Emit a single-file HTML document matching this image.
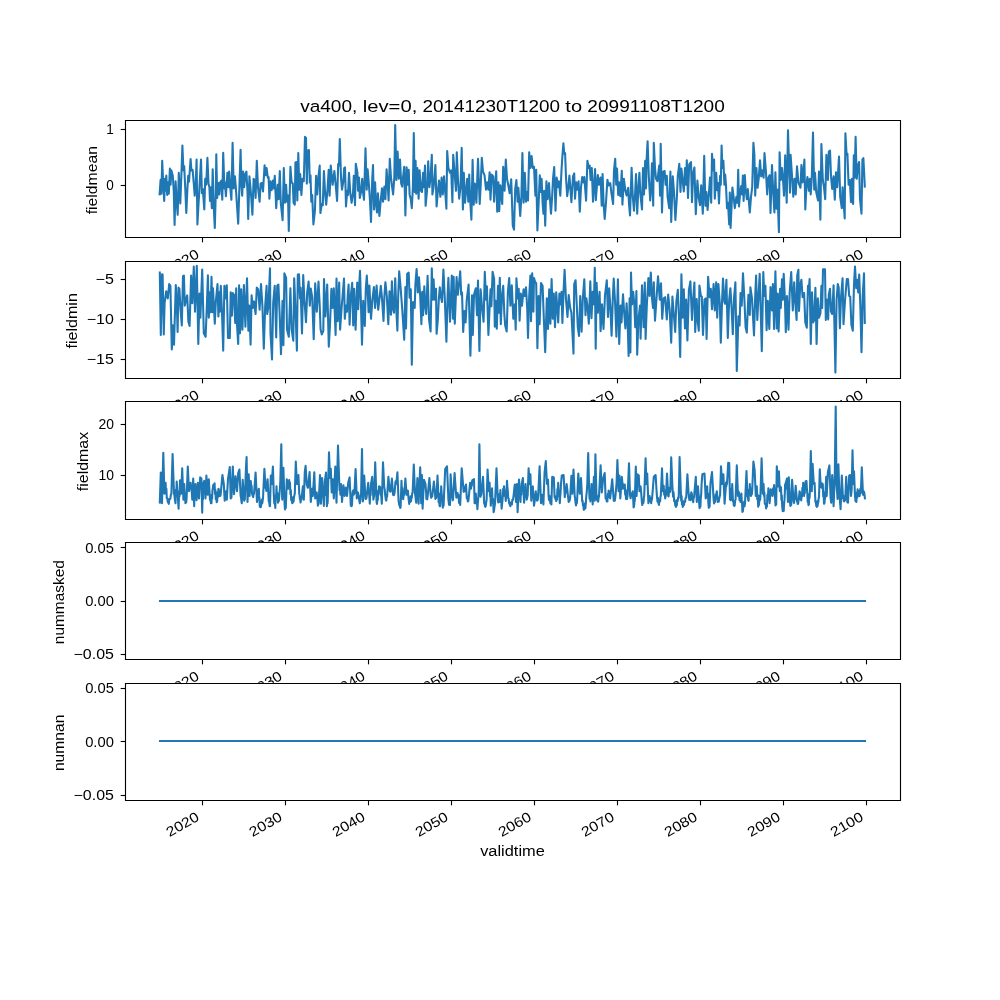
<!DOCTYPE html>
<html><head><meta charset="utf-8"><title>va400</title>
<style>html,body{margin:0;padding:0;background:#fff}svg{display:block;will-change:transform}text{font-family:"Liberation Sans",sans-serif;fill:#000}</style></head>
<body>
<svg width="1000" height="1000" viewBox="0 0 1000 1000">
<rect x="0" y="0" width="1000" height="1000" fill="#fff"/>
<text x="300.16" y="111.7" font-size="16.67" textLength="57.20" lengthAdjust="spacingAndGlyphs">va400,</text>
<text x="362.66" y="111.7" font-size="16.67" textLength="54.63" lengthAdjust="spacingAndGlyphs">lev=0,</text>
<text x="422.59" y="111.7" font-size="16.67" textLength="137.46" lengthAdjust="spacingAndGlyphs">20141230T1200</text>
<text x="565.34" y="111.7" font-size="16.67" textLength="16.74" lengthAdjust="spacingAndGlyphs">to</text>
<text x="587.38" y="111.7" font-size="16.67" textLength="137.46" lengthAdjust="spacingAndGlyphs">20991108T1200</text>
<g>
<rect x="125.0" y="120.00" width="775.0" height="117.24" fill="#fff"/>
<polyline points="159.6,194.4 160.6,179.7 161.4,193.8 162.2,160.8 163.4,187.2 164.2,201.0 165.0,178.8 165.6,190.8 166.3,175.5 167.2,195.0 168.0,182.4 168.8,193.8 169.9,168.6 170.6,184.8 171.4,170.4 172.8,175.8 173.8,192.0 174.6,225.0 175.6,181.2 176.7,202.8 177.7,214.8 178.8,172.8 180.3,203.4 181.5,171.6 182.4,145.5 183.4,170.4 184.2,166.2 185.2,187.2 186.3,213.0 187.5,187.2 188.2,175.8 189.0,181.8 190.6,159.0 191.4,170.4 192.6,169.8 193.8,183.6 194.7,195.6 195.6,187.2 196.6,159.6 197.4,224.4 199.2,192.0 201.0,159.6 201.9,193.2 202.8,189.0 204.3,209.4 205.2,178.8 206.2,184.8 207.4,157.8 208.5,183.6 209.4,187.2 210.0,201.0 211.0,187.2 211.8,208.2 212.7,169.2 213.6,204.0 214.8,228.0 215.8,192.0 216.3,154.2 217.2,198.0 218.4,183.0 219.4,194.4 220.2,182.4 221.4,180.6 222.3,199.8 223.2,152.7 224.4,188.4 225.0,182.4 225.9,196.2 227.4,172.8 228.3,187.2 229.2,171.6 230.2,187.2 231.4,199.8 232.6,142.8 233.7,188.4 234.9,176.4 235.8,187.2 238.2,223.8 239.4,187.2 240.6,149.8 241.5,186.0 242.2,195.6 243.0,171.6 244.2,187.2 245.4,173.4 246.4,171.6 247.5,192.0 248.2,219.0 249.4,177.6 249.4,176.4 250.4,187.2 251.2,196.8 252.4,214.8 253.6,178.8 254.6,180.0 255.6,198.0 256.8,160.8 258.0,187.2 259.6,201.6 260.6,183.6 261.8,183.0 263.0,191.4 264.6,165.4 265.6,175.2 266.6,168.0 267.8,177.6 268.6,177.0 269.4,198.6 270.5,181.2 271.7,190.2 272.9,180.6 273.8,188.4 274.8,175.8 276.2,208.2 277.7,184.8 278.6,199.2 279.8,171.0 280.8,202.8 282.6,220.2 283.8,168.0 285.0,202.8 286.1,184.8 287.0,201.6 288.0,195.6 288.8,231.0 290.4,166.8 291.6,182.4 292.8,183.6 293.6,202.8 294.8,204.6 295.4,162.6 296.4,162.0 297.3,200.4 298.3,153.0 299.3,189.6 300.2,174.0 301.4,195.0 302.4,178.8 303.8,181.2 305.0,136.8 306.0,138.0 306.8,183.6 307.7,150.6 308.9,150.0 309.8,182.4 310.5,175.2 311.3,201.6 312.2,195.0 313.4,224.4 314.9,211.2 316.1,175.8 317.3,194.4 318.5,176.4 319.7,165.6 320.4,213.0 321.8,204.0 322.8,205.2 323.9,171.0 325.2,194.4 326.2,204.6 327.6,188.4 328.7,169.8 329.6,195.6 330.8,165.6 332.6,184.8 334.4,171.0 336.0,188.4 337.1,201.0 338.2,163.8 339.0,165.6 339.8,139.0 341.0,177.6 342.0,189.6 343.2,182.4 344.2,168.0 345.0,167.4 346.0,206.4 347.2,190.8 348.0,195.0 349.0,172.8 350.2,192.0 351.6,202.8 353.0,193.2 353.8,175.8 355.0,205.2 355.8,163.8 357.4,172.8 358.0,190.8 359.0,177.6 359.8,198.0 361.0,192.0 362.2,178.8 363.0,192.0 364.0,199.8 365.5,148.2 366.7,189.6 367.6,169.2 369.1,187.2 370.0,201.0 371.0,222.0 372.2,180.0 373.0,165.0 374.0,209.4 375.1,182.4 376.0,204.0 377.0,212.4 377.9,193.2 379.4,216.0 380.6,201.6 382.0,188.4 383.0,201.6 384.4,186.6 385.4,199.2 386.6,169.2 387.8,186.0 388.6,200.4 389.8,158.7 391.0,177.6 391.9,185.4 393.1,194.4 394.3,177.6 395.2,125.0 396.4,180.0 397.6,151.5 398.8,178.8 400.0,159.6 401.2,183.6 402.2,186.6 403.0,177.6 404.2,166.8 405.4,215.4 406.6,167.4 407.6,184.8 408.7,169.8 409.6,194.4 410.8,199.2 411.8,208.2 412.9,187.2 413.8,133.0 414.7,192.0 415.6,160.8 416.2,193.8 417.4,168.0 418.6,198.6 419.6,170.4 421.0,190.8 422.0,192.0 423.1,172.8 424.0,187.2 425.0,165.6 425.6,205.8 427.0,190.8 428.2,161.4 429.4,187.2 430.6,177.6 431.8,154.8 432.4,194.4 433.6,187.2 435.4,165.0 436.6,206.4 437.8,192.0 439.0,180.6 440.4,196.8 441.6,177.6 442.8,194.4 444.0,176.4 445.2,192.0 446.4,208.8 447.2,151.0 448.4,168.0 450.0,172.8 451.2,170.4 452.4,202.2 453.2,154.8 454.4,170.4 456.0,190.8 456.8,152.2 458.0,180.0 459.2,198.6 460.5,187.2 461.7,147.9 462.9,209.4 463.8,172.8 465.0,202.8 466.0,192.0 467.2,178.8 468.3,201.6 469.2,174.6 470.4,204.0 471.4,219.6 472.6,159.9 473.7,204.6 474.9,183.6 476.4,202.8 478.0,158.7 479.7,204.0 480.6,187.2 481.8,157.8 483.0,171.6 484.5,175.2 486.0,189.6 487.2,182.4 488.4,189.6 489.6,172.2 490.5,199.8 491.7,174.6 493.2,176.4 494.1,201.6 495.0,187.2 496.2,171.4 497.2,211.8 498.4,182.4 499.2,211.2 500.4,185.4 502.2,204.0 503.2,166.8 504.6,190.8 505.8,159.6 507.0,178.8 508.2,184.8 509.7,193.2 511.2,179.4 512.8,225.6 514.0,229.8 515.2,189.0 516.4,180.0 517.6,201.6 518.4,187.8 520.2,216.0 521.4,196.8 522.4,153.0 523.6,202.8 524.8,172.8 526.0,201.6 526.8,192.0 528.0,200.4 529.2,152.4 530.4,168.0 531.6,156.0 532.8,168.0 534.0,166.8 535.4,195.6 536.2,169.8 537.4,230.4 538.6,204.0 539.8,175.2 540.8,192.0 541.6,178.8 542.6,202.8 543.4,213.6 544.2,190.8 545.2,225.6 546.4,181.2 547.6,199.2 549.0,183.0 549.8,196.8 551.0,213.6 552.2,195.6 553.0,178.8 554.2,167.1 555.5,210.6 556.7,177.6 557.9,187.2 558.8,181.2 560.3,195.6 561.5,170.4 562.4,156.0 563.4,143.4 564.2,153.6 565.1,153.0 566.0,177.6 567.2,196.2 568.4,187.2 569.4,175.5 571.4,202.2 573.0,176.4 574.2,173.4 575.0,198.6 576.2,182.4 577.4,189.6 578.6,181.2 579.8,211.8 581.0,187.2 582.2,177.0 583.4,182.4 584.3,177.0 586.1,200.7 587.4,160.8 588.8,168.0 589.7,165.6 590.6,180.0 591.8,168.0 593.0,201.6 594.2,182.4 595.1,169.0 595.8,200.2 597.0,184.8 597.8,175.0 599.0,184.8 600.6,177.6 601.7,205.8 602.6,174.0 603.6,204.0 604.7,219.0 605.9,204.0 607.4,179.8 608.6,185.4 610.2,183.0 611.6,194.4 613.1,204.0 614.0,170.4 615.2,158.7 616.2,184.8 617.0,168.6 618.2,195.0 619.1,182.4 620.3,196.2 621.8,170.7 622.4,204.6 623.9,178.8 625.4,190.8 626.6,195.6 628.2,187.8 629.0,204.0 630.0,215.4 631.6,167.8 632.8,196.8 634.0,210.6 635.2,192.0 636.0,174.0 637.2,213.6 638.4,187.2 639.4,172.8 640.4,194.4 642.0,209.4 643.0,168.0 644.0,194.4 645.2,160.8 646.0,188.4 646.6,159.6 647.6,141.4 648.8,176.4 650.2,200.4 651.2,187.2 652.0,163.2 653.2,205.8 653.8,142.8 655.0,168.0 656.0,178.8 657.4,181.2 659.2,165.6 660.1,195.6 660.7,143.8 662.0,212.4 663.2,171.6 664.6,171.0 665.6,184.8 666.8,175.8 667.6,196.8 669.2,208.2 670.4,171.6 671.2,222.0 672.8,176.4 674.0,192.0 675.4,219.9 676.9,196.8 677.8,175.8 679.3,163.8 680.5,192.0 681.4,168.6 682.6,180.0 683.8,191.4 685.0,168.0 686.0,184.8 686.8,160.2 688.0,198.0 689.2,164.4 691.0,162.0 692.0,202.2 693.2,172.8 694.4,167.4 695.8,214.2 697.4,180.6 698.6,196.8 700.0,205.2 701.2,185.4 702.8,213.6 704.2,155.8 705.4,205.8 706.4,192.0 707.6,210.0 709.0,192.0 710.0,177.6 711.2,202.8 712.0,153.9 713.2,170.4 714.1,159.6 714.8,198.6 716.2,172.8 717.2,190.2 718.0,183.0 719.0,203.4 720.1,175.8 720.8,184.8 721.6,145.5 722.4,168.0 723.4,160.8 724.4,184.8 725.2,174.6 726.0,185.4 727.0,208.2 728.0,202.8 729.2,224.4 729.8,192.6 730.6,228.0 732.4,187.5 733.6,196.8 734.8,208.2 736.4,196.8 737.4,202.8 738.2,169.8 739.0,206.4 740.2,192.0 741.2,186.0 742.0,194.4 742.9,175.5 743.6,201.0 744.8,175.0 745.6,188.4 746.8,199.2 747.8,189.0 749.8,212.4 751.0,196.8 752.2,187.2 753.4,142.8 754.4,154.8 755.2,195.6 756.4,168.0 757.6,187.8 758.8,177.6 760.0,160.2 761.2,176.4 762.4,170.4 763.6,177.6 764.5,153.0 766.0,172.8 767.2,194.4 768.4,177.6 769.6,175.2 770.5,213.0 772.0,165.0 773.2,192.0 774.4,212.4 775.4,172.2 776.5,208.8 777.4,189.6 778.9,232.2 779.6,152.2 780.8,180.0 782.0,168.0 783.2,182.4 784.0,195.6 785.2,155.4 786.7,202.8 788.0,130.2 789.2,170.4 790.0,192.6 790.6,154.8 791.8,172.8 793.3,196.8 794.5,178.8 795.7,194.4 797.0,166.2 798.4,182.4 800.5,187.8 801.4,165.0 802.6,182.4 804.4,159.6 805.3,209.4 806.5,184.8 807.4,177.0 808.9,190.8 809.8,178.8 810.7,194.4 811.8,177.6 813.0,132.6 814.2,189.6 815.0,172.8 816.2,192.0 818.0,200.4 819.0,171.6 820.4,219.6 821.4,144.0 822.8,180.0 824.0,187.2 825.2,199.2 826.4,154.8 827.9,180.0 828.8,151.8 830.0,150.6 831.0,176.4 832.2,189.0 833.6,176.4 834.8,199.8 836.0,172.2 837.2,187.2 839.0,156.6 840.2,196.8 841.8,208.2 842.6,187.2 844.7,218.4 845.4,133.2 846.6,154.8 847.4,153.6 848.6,184.8 849.8,180.0 851.0,202.2 851.9,178.8 853.1,204.0 853.8,155.4 854.6,177.6 855.6,136.8 856.7,178.8 857.9,165.6 859.1,162.0 860.0,199.2 861.5,213.6 862.4,159.6 863.4,158.2 864.8,186.6" fill="none" stroke="#1f77b4" stroke-width="2.08" stroke-linejoin="round" stroke-linecap="square"/>
<path d="M125.5,119.95V238.05M900.5,119.95V238.05M124.95,120.5H901.05M124.95,237.5H901.05" fill="none" stroke="#000" stroke-width="1.11"/>
<line x1="202.5" y1="237.5" x2="202.5" y2="242.36" stroke="#000" stroke-width="1.11"/>
<text transform="translate(200.18,256.84) rotate(-30)" font-size="13.89" text-anchor="end" textLength="35.35" lengthAdjust="spacingAndGlyphs">2020</text>
<line x1="285.5" y1="237.5" x2="285.5" y2="242.36" stroke="#000" stroke-width="1.11"/>
<text transform="translate(283.22,256.84) rotate(-30)" font-size="13.89" text-anchor="end" textLength="35.35" lengthAdjust="spacingAndGlyphs">2030</text>
<line x1="368.5" y1="237.5" x2="368.5" y2="242.36" stroke="#000" stroke-width="1.11"/>
<text transform="translate(366.24,256.84) rotate(-30)" font-size="13.89" text-anchor="end" textLength="35.35" lengthAdjust="spacingAndGlyphs">2040</text>
<line x1="451.5" y1="237.5" x2="451.5" y2="242.36" stroke="#000" stroke-width="1.11"/>
<text transform="translate(449.27,256.84) rotate(-30)" font-size="13.89" text-anchor="end" textLength="35.35" lengthAdjust="spacingAndGlyphs">2050</text>
<line x1="534.5" y1="237.5" x2="534.5" y2="242.36" stroke="#000" stroke-width="1.11"/>
<text transform="translate(532.29,256.84) rotate(-30)" font-size="13.89" text-anchor="end" textLength="35.35" lengthAdjust="spacingAndGlyphs">2060</text>
<line x1="617.5" y1="237.5" x2="617.5" y2="242.36" stroke="#000" stroke-width="1.11"/>
<text transform="translate(615.33,256.84) rotate(-30)" font-size="13.89" text-anchor="end" textLength="35.35" lengthAdjust="spacingAndGlyphs">2070</text>
<line x1="700.5" y1="237.5" x2="700.5" y2="242.36" stroke="#000" stroke-width="1.11"/>
<text transform="translate(698.35,256.84) rotate(-30)" font-size="13.89" text-anchor="end" textLength="35.35" lengthAdjust="spacingAndGlyphs">2080</text>
<line x1="783.5" y1="237.5" x2="783.5" y2="242.36" stroke="#000" stroke-width="1.11"/>
<text transform="translate(781.38,256.84) rotate(-30)" font-size="13.89" text-anchor="end" textLength="35.35" lengthAdjust="spacingAndGlyphs">2090</text>
<line x1="866.5" y1="237.5" x2="866.5" y2="242.36" stroke="#000" stroke-width="1.11"/>
<text transform="translate(864.40,256.84) rotate(-30)" font-size="13.89" text-anchor="end" textLength="35.35" lengthAdjust="spacingAndGlyphs">2100</text>
<line x1="120.64" y1="129.5" x2="125.5" y2="129.5" stroke="#000" stroke-width="1.11"/>
<text x="113.9" y="134.30" font-size="13.89" text-anchor="end" textLength="7.54" lengthAdjust="spacingAndGlyphs">1</text>
<line x1="120.64" y1="185.5" x2="125.5" y2="185.5" stroke="#000" stroke-width="1.11"/>
<text x="113.9" y="189.60" font-size="13.89" text-anchor="end" textLength="7.54" lengthAdjust="spacingAndGlyphs">0</text>
<text transform="translate(97.30,180.12) rotate(-90)" font-size="13.89" text-anchor="middle" textLength="68.32" lengthAdjust="spacingAndGlyphs">fieldmean</text>
</g>
<g>
<rect x="125.0" y="260.69" width="775.0" height="117.24" fill="#fff"/>
<polyline points="159.8,272.6 160.8,335.0 162.0,274.2 162.6,274.4 163.8,334.4 164.6,303.2 166.2,291.2 167.8,298.4 169.2,284.0 170.4,285.8 171.8,349.4 172.8,325.4 174.0,344.6 175.8,285.0 177.0,310.4 177.6,332.0 178.5,287.6 179.4,288.8 180.6,310.4 181.8,325.4 183.0,276.2 183.9,275.6 184.8,305.6 186.0,299.6 187.2,295.4 188.4,321.8 189.6,326.0 191.1,275.6 192.3,303.2 193.8,266.6 195.0,311.6 196.8,265.8 198.3,344.0 199.5,293.6 200.4,317.6 202.2,269.6 203.8,333.2 205.6,336.8 206.7,310.4 207.9,275.4 208.8,317.6 209.8,292.4 210.6,312.2 211.5,276.8 212.4,312.2 213.0,288.2 214.8,323.6 215.8,302.0 217.5,284.0 218.4,316.4 219.4,292.4 219.9,311.6 220.8,285.8 222.0,312.8 223.2,350.6 224.4,285.8 225.4,298.4 226.8,285.2 228.0,338.0 229.8,338.0 230.7,292.4 231.9,315.8 232.8,293.0 234.0,294.8 235.2,323.0 236.2,288.2 237.0,324.8 238.2,344.0 239.1,285.2 240.0,333.2 241.2,289.4 242.4,329.6 243.9,285.0 245.4,326.6 247.0,278.2 248.4,330.8 249.3,305.6 250.6,344.6 251.6,295.4 252.8,308.0 254.0,301.4 255.6,314.0 256.8,287.6 258.2,289.4 259.6,309.8 261.0,284.0 262.4,305.6 263.8,348.8 265.2,305.6 266.6,285.8 267.2,314.0 268.4,306.8 270.0,268.2 270.5,333.2 272.0,359.4 273.2,302.6 274.7,285.8 276.2,337.4 277.2,285.8 278.4,284.6 279.6,312.8 281.0,354.2 282.5,300.8 283.4,345.2 284.4,273.4 286.1,277.8 287.0,329.6 288.8,336.8 290.4,288.2 291.6,329.6 293.3,340.7 294.2,278.2 295.4,308.0 296.9,350.6 297.8,274.6 299.0,274.4 300.0,298.4 300.6,287.9 302.0,333.5 303.2,275.0 304.4,299.6 306.0,322.2 307.2,292.4 308.6,281.6 309.8,305.6 310.8,288.6 312.2,297.2 313.7,339.2 315.2,283.4 316.8,311.6 318.5,281.6 319.7,305.6 320.6,329.6 321.8,334.4 323.3,330.8 324.0,279.0 325.4,316.4 327.2,284.6 328.8,346.7 330.0,324.8 331.4,288.8 332.6,308.0 333.8,288.2 335.6,335.0 336.5,278.6 337.7,321.2 339.2,282.6 340.1,329.6 341.6,308.0 342.6,296.0 344.0,278.6 344.8,318.8 346.0,305.6 347.0,311.6 347.8,295.4 348.6,284.6 349.6,324.8 350.8,296.0 352.2,282.8 353.2,325.4 354.2,288.8 355.6,329.6 357.2,282.6 358.2,309.2 359.0,288.8 360.0,270.8 361.0,305.6 362.0,344.6 363.2,300.8 364.8,326.0 365.8,288.8 366.8,275.6 367.9,296.0 368.6,312.2 369.4,285.5 371.0,318.8 372.4,299.6 373.9,287.0 375.1,308.0 376.6,285.5 378.2,309.8 379.4,299.6 380.8,285.8 382.0,298.4 383.5,321.0 384.4,296.0 385.4,282.2 386.8,296.0 388.3,324.2 389.5,291.2 391.0,314.6 391.9,281.4 392.8,308.0 394.0,312.8 395.2,278.2 396.4,311.6 397.4,330.6 398.2,296.0 399.2,271.4 400.6,287.6 402.4,311.6 404.2,339.8 405.4,287.0 406.0,328.4 407.2,273.8 408.7,272.6 409.6,297.8 410.8,289.4 411.8,364.7 413.0,302.0 414.7,308.0 415.4,284.0 416.6,269.0 417.8,292.4 419.0,277.4 420.2,296.0 421.4,324.2 422.2,291.8 423.1,315.2 424.3,286.4 425.2,305.6 426.2,314.0 427.6,275.8 429.1,320.0 430.6,331.4 431.8,268.4 432.7,299.6 433.6,279.2 434.6,299.6 436.0,288.8 436.6,333.8 437.8,320.0 438.8,299.6 439.8,287.4 440.8,296.0 442.0,302.0 443.4,269.6 444.8,298.4 446.4,341.6 447.6,296.0 448.4,277.8 450.0,321.8 451.8,275.6 453.0,318.8 453.6,276.8 454.8,323.6 456.6,277.0 457.8,294.8 459.0,284.0 460.2,271.4 461.2,294.8 462.0,292.4 463.2,332.0 464.4,311.0 465.6,322.4 466.8,299.6 468.6,284.6 470.4,355.8 472.0,295.4 472.8,335.0 474.0,294.8 475.8,288.2 477.0,315.2 478.0,280.6 479.4,351.0 480.6,289.4 482.1,308.0 483.6,321.8 484.8,271.8 486.0,299.6 486.9,286.4 488.4,335.0 489.6,308.0 490.5,289.4 491.4,306.2 492.6,271.8 494.1,278.6 494.8,326.6 495.6,300.8 496.8,328.7 498.0,285.8 498.9,312.8 499.8,277.8 500.8,324.2 502.0,296.0 503.2,285.8 504.4,315.2 505.2,325.4 506.7,331.4 507.9,291.8 509.2,278.0 510.4,305.6 511.8,285.2 513.3,318.8 514.8,304.4 515.7,329.6 516.4,278.2 517.8,298.4 518.7,288.8 519.6,320.6 520.8,293.6 522.0,305.6 523.6,289.4 524.8,296.0 526.0,287.4 527.2,308.0 528.0,338.0 529.2,296.0 530.4,275.6 531.0,321.2 532.2,273.2 533.4,311.6 534.0,278.0 535.0,281.6 536.2,283.4 537.4,348.2 538.6,296.0 539.6,324.2 541.0,283.0 542.6,285.8 543.8,317.6 545.2,352.2 546.8,298.4 548.0,329.0 549.2,289.4 550.4,323.6 551.6,279.0 552.8,318.8 553.8,293.6 555.0,327.2 556.2,292.4 558.2,322.4 559.4,293.6 560.6,304.4 561.5,291.8 562.4,323.0 563.6,290.0 564.6,269.8 566.0,299.6 567.5,317.0 568.7,295.1 570.2,308.0 571.4,312.8 573.5,353.6 574.2,284.0 575.6,280.2 576.8,305.6 577.8,327.2 579.0,335.9 580.2,296.0 581.6,331.8 582.8,298.4 584.3,279.4 585.5,315.2 586.4,298.4 587.9,310.4 588.8,323.6 590.3,281.4 591.5,318.2 592.7,291.8 593.9,304.4 594.8,267.8 595.7,348.8 596.6,282.8 597.8,312.8 599.6,291.8 600.6,331.1 602.0,304.4 603.5,329.0 605.0,295.4 606.8,280.2 608.0,317.0 609.2,288.2 610.4,308.0 611.6,335.6 612.8,298.4 613.7,278.6 615.0,300.8 616.4,336.8 617.9,279.2 619.2,344.0 620.6,305.6 621.5,322.4 623.0,294.2 624.2,312.8 625.4,328.4 626.6,303.2 627.8,327.2 628.6,356.0 629.6,298.4 630.4,352.4 631.0,272.6 632.0,304.4 633.2,291.8 634.4,305.6 635.2,327.2 636.4,291.0 637.2,354.8 638.4,320.0 640.0,305.6 640.6,338.6 642.0,285.2 643.6,327.2 644.8,282.6 645.6,339.0 646.8,305.6 648.4,278.0 649.6,296.0 650.8,272.6 652.0,298.4 653.0,308.0 653.8,282.2 655.0,320.6 656.5,298.4 658.0,276.2 659.8,299.6 661.0,283.4 662.2,318.8 663.7,298.4 665.2,297.2 666.8,319.4 668.2,294.6 669.7,310.4 671.2,342.8 672.4,296.6 673.6,311.6 675.2,332.0 676.4,300.8 677.8,289.8 679.0,317.6 680.2,357.0 681.4,274.2 682.6,317.6 683.8,289.4 685.0,328.4 686.2,299.6 687.4,340.4 688.9,290.0 690.4,281.4 692.0,320.0 693.1,299.6 694.4,282.6 695.2,332.0 696.7,299.0 697.6,320.0 698.8,330.8 699.4,285.5 700.9,296.0 701.8,296.6 703.0,335.0 704.5,299.6 705.7,298.4 706.6,339.0 708.1,276.8 709.6,297.2 710.8,288.8 712.0,309.2 713.6,284.0 714.8,310.4 716.2,282.2 717.2,317.6 718.4,284.0 719.8,303.2 720.8,342.8 722.0,303.2 723.0,278.6 724.4,302.0 725.2,303.8 726.4,279.8 727.8,338.0 729.2,299.6 730.4,288.2 731.6,308.0 732.8,334.2 734.0,298.4 735.4,282.2 736.8,371.0 738.4,316.4 739.6,325.4 740.5,293.0 741.7,305.6 743.0,273.4 744.4,299.6 745.6,327.2 746.8,332.6 748.4,294.8 749.8,315.0 750.4,287.4 752.0,298.4 754.0,335.4 755.2,296.0 756.1,275.6 757.3,320.0 758.5,296.0 759.7,273.8 761.8,351.2 763.3,272.0 764.2,296.0 765.4,285.8 766.6,330.2 767.8,300.8 769.3,329.0 770.5,287.0 772.0,310.4 772.9,284.0 774.1,329.0 775.4,271.4 776.8,328.4 777.7,293.6 778.6,331.4 780.1,288.8 780.8,308.0 782.0,279.2 782.8,299.6 783.7,273.8 784.9,298.4 785.8,332.3 787.0,296.0 788.5,329.6 789.7,292.4 791.2,272.0 792.8,310.4 794.2,282.2 795.2,300.8 796.6,320.0 797.2,275.6 798.4,269.8 799.0,311.0 800.2,285.2 801.4,279.8 802.6,297.2 804.1,293.0 805.3,322.4 806.8,327.8 808.0,285.8 808.6,293.6 809.6,279.0 810.8,344.0 812.0,292.4 813.2,322.4 814.2,320.0 815.4,287.9 816.6,344.0 817.8,298.4 819.0,317.6 820.4,313.4 821.4,285.8 822.2,308.0 823.0,269.4 825.0,269.4 825.8,320.0 827.0,299.6 828.2,319.4 828.8,294.8 830.0,288.8 831.0,311.6 832.2,314.0 833.6,285.2 835.4,372.6 836.6,299.6 837.8,284.0 838.7,287.6 839.9,328.2 841.1,296.0 842.6,278.2 843.5,324.2 845.0,300.8 846.8,279.0 848.0,279.0 849.2,296.0 850.2,296.6 851.4,324.8 852.8,330.8 854.0,284.0 855.0,266.6 856.2,288.2 857.4,279.8 858.2,292.4 859.2,274.6 860.4,308.0 861.5,352.2 862.7,296.0 864.0,273.4 864.8,323.0" fill="none" stroke="#1f77b4" stroke-width="2.08" stroke-linejoin="round" stroke-linecap="square"/>
<path d="M125.5,260.95V379.05M900.5,260.95V379.05M124.95,261.5H901.05M124.95,378.5H901.05" fill="none" stroke="#000" stroke-width="1.11"/>
<line x1="202.5" y1="378.5" x2="202.5" y2="383.36" stroke="#000" stroke-width="1.11"/>
<text transform="translate(200.18,397.53) rotate(-30)" font-size="13.89" text-anchor="end" textLength="35.35" lengthAdjust="spacingAndGlyphs">2020</text>
<line x1="285.5" y1="378.5" x2="285.5" y2="383.36" stroke="#000" stroke-width="1.11"/>
<text transform="translate(283.22,397.53) rotate(-30)" font-size="13.89" text-anchor="end" textLength="35.35" lengthAdjust="spacingAndGlyphs">2030</text>
<line x1="368.5" y1="378.5" x2="368.5" y2="383.36" stroke="#000" stroke-width="1.11"/>
<text transform="translate(366.24,397.53) rotate(-30)" font-size="13.89" text-anchor="end" textLength="35.35" lengthAdjust="spacingAndGlyphs">2040</text>
<line x1="451.5" y1="378.5" x2="451.5" y2="383.36" stroke="#000" stroke-width="1.11"/>
<text transform="translate(449.27,397.53) rotate(-30)" font-size="13.89" text-anchor="end" textLength="35.35" lengthAdjust="spacingAndGlyphs">2050</text>
<line x1="534.5" y1="378.5" x2="534.5" y2="383.36" stroke="#000" stroke-width="1.11"/>
<text transform="translate(532.29,397.53) rotate(-30)" font-size="13.89" text-anchor="end" textLength="35.35" lengthAdjust="spacingAndGlyphs">2060</text>
<line x1="617.5" y1="378.5" x2="617.5" y2="383.36" stroke="#000" stroke-width="1.11"/>
<text transform="translate(615.33,397.53) rotate(-30)" font-size="13.89" text-anchor="end" textLength="35.35" lengthAdjust="spacingAndGlyphs">2070</text>
<line x1="700.5" y1="378.5" x2="700.5" y2="383.36" stroke="#000" stroke-width="1.11"/>
<text transform="translate(698.35,397.53) rotate(-30)" font-size="13.89" text-anchor="end" textLength="35.35" lengthAdjust="spacingAndGlyphs">2080</text>
<line x1="783.5" y1="378.5" x2="783.5" y2="383.36" stroke="#000" stroke-width="1.11"/>
<text transform="translate(781.38,397.53) rotate(-30)" font-size="13.89" text-anchor="end" textLength="35.35" lengthAdjust="spacingAndGlyphs">2090</text>
<line x1="866.5" y1="378.5" x2="866.5" y2="383.36" stroke="#000" stroke-width="1.11"/>
<text transform="translate(864.40,397.53) rotate(-30)" font-size="13.89" text-anchor="end" textLength="35.35" lengthAdjust="spacingAndGlyphs">2100</text>
<line x1="120.64" y1="279.5" x2="125.5" y2="279.5" stroke="#000" stroke-width="1.11"/>
<text x="113.9" y="284.20" font-size="13.89" text-anchor="end" textLength="18.28" lengthAdjust="spacingAndGlyphs">−5</text>
<line x1="120.64" y1="319.5" x2="125.5" y2="319.5" stroke="#000" stroke-width="1.11"/>
<text x="113.9" y="324.20" font-size="13.89" text-anchor="end" textLength="27.11" lengthAdjust="spacingAndGlyphs">−10</text>
<line x1="120.64" y1="359.5" x2="125.5" y2="359.5" stroke="#000" stroke-width="1.11"/>
<text x="113.9" y="364.20" font-size="13.89" text-anchor="end" textLength="27.11" lengthAdjust="spacingAndGlyphs">−15</text>
<text transform="translate(76.90,320.81) rotate(-90)" font-size="13.89" text-anchor="middle" textLength="55.32" lengthAdjust="spacingAndGlyphs">fieldmin</text>
</g>
<g>
<rect x="125.0" y="401.38" width="775.0" height="117.24" fill="#fff"/>
<polyline points="159.8,502.6 160.8,472.6 162.0,503.2 163.3,452.8 164.4,493.6 164.8,490.9 165.2,486.7 165.6,482.8 166.0,493.2 166.4,488.9 166.8,498.1 167.3,498.4 167.7,501.6 168.2,502.6 168.8,503.9 169.2,499.1 169.8,499.2 170.4,498.6 170.8,495.0 171.4,493.5 172.6,454.0 174.0,493.5 174.5,495.9 174.9,499.9 175.5,503.2 175.9,489.9 176.3,494.0 176.7,481.6 177.4,493.0 177.8,496.4 178.6,508.6 179.1,491.5 179.5,496.4 180.0,480.4 180.4,484.2 180.8,488.8 181.2,493.6 182.2,468.2 183.4,499.6 184.2,484.0 184.6,491.6 185.0,494.8 185.4,503.2 185.8,498.0 186.2,502.3 186.6,498.2 187.8,466.6 189.0,491.2 189.4,489.6 189.8,486.5 190.2,484.0 190.6,482.7 191.0,486.7 191.4,486.4 192.3,499.6 193.2,478.6 194.2,506.2 194.6,492.1 195.0,497.0 195.4,484.0 195.8,489.0 196.2,494.0 196.6,500.2 197.0,494.5 197.4,489.8 197.8,482.8 198.2,493.8 198.6,488.8 199.0,498.4 200.2,477.4 201.4,478.6 202.2,512.8 202.6,495.8 203.0,499.1 203.4,482.8 203.8,484.4 204.2,480.9 204.6,481.6 205.5,498.4 206.4,475.6 207.6,494.8 208.8,479.2 210.0,500.0 210.5,499.1 210.9,503.1 211.5,503.2 211.7,494.9 212.1,498.6 212.4,491.2 213.3,484.9 213.7,488.8 214.6,483.4 215.0,493.9 215.4,489.7 215.8,499.1 216.3,497.2 216.7,502.1 217.2,501.4 217.6,492.0 218.0,497.0 218.4,488.8 218.8,489.2 219.2,494.4 219.6,496.0 220.0,492.5 220.4,495.9 220.8,493.2 222.4,475.0 223.8,484.0 224.7,500.8 225.1,492.9 225.5,497.9 225.9,491.2 226.2,492.8 226.6,497.0 226.8,499.6 228.0,479.2 229.8,467.0 230.7,498.4 231.0,494.1 231.4,497.6 231.6,494.1 232.8,466.6 234.0,494.2 235.5,476.2 237.0,491.2 238.2,473.2 239.4,469.6 240.6,496.0 241.0,497.0 241.4,501.2 241.8,503.2 242.7,479.8 243.9,497.8 244.2,500.7 244.6,497.5 244.8,499.6 246.0,467.2 246.6,457.0 247.5,502.0 248.7,474.4 249.6,496.0 250.0,485.3 250.4,490.4 250.8,481.0 251.2,490.3 251.6,485.6 252.0,493.6 252.8,496.0 253.2,497.1 253.6,493.7 254.0,493.9 255.6,472.6 257.0,502.0 257.4,499.5 257.8,494.9 258.2,491.2 258.8,488.8 259.1,495.9 259.5,499.0 259.8,506.8 260.3,504.1 260.7,507.3 261.2,505.4 261.9,499.5 262.3,503.2 263.0,498.2 264.4,468.7 265.6,488.2 265.9,486.0 266.3,491.0 266.6,490.0 267.6,479.2 268.8,501.7 269.2,500.8 269.6,505.9 270.0,506.2 270.8,475.6 271.7,484.0 272.9,466.6 273.8,494.8 274.3,503.5 274.7,500.2 275.3,508.0 275.7,495.3 276.1,498.4 276.5,486.4 277.0,497.0 277.4,493.1 278.0,502.6 278.4,497.7 278.8,501.1 279.2,497.1 279.6,492.4 280.0,487.5 280.3,481.6 281.3,444.2 282.2,499.6 283.4,467.8 284.6,504.4 285.0,509.4 285.4,504.4 285.8,508.0 286.8,479.2 288.0,488.8 288.8,482.2 289.2,480.1 289.6,484.0 290.0,482.8 290.4,494.2 290.8,490.0 291.2,500.3 291.8,498.8 292.2,503.1 292.8,502.6 293.2,497.1 293.6,501.5 294.0,497.1 294.8,493.5 295.8,461.5 296.9,484.0 298.4,475.0 299.3,494.8 299.5,494.7 299.9,498.8 300.2,499.6 300.6,502.5 301.0,497.9 301.4,499.6 301.9,495.3 302.3,491.7 302.9,486.4 303.1,490.5 303.5,494.6 303.8,499.6 304.8,472.0 305.6,465.8 306.8,485.2 307.2,484.5 307.6,487.6 308.0,487.6 309.6,472.0 310.8,502.0 311.2,498.1 311.6,493.8 312.0,488.8 312.8,496.0 314.3,472.3 315.2,498.4 315.7,498.1 316.1,493.8 316.7,492.4 317.1,497.0 317.5,500.2 317.9,505.6 318.1,500.2 318.5,504.3 318.8,499.9 320.0,475.0 320.9,503.8 322.1,478.0 323.9,505.9 324.2,491.4 324.6,495.2 324.8,481.6 326.0,472.6 326.9,506.2 327.2,499.0 327.6,503.5 327.8,497.4 329.0,452.2 330.0,478.0 330.8,468.7 331.7,492.4 332.9,479.2 333.8,498.4 335.3,466.6 336.5,502.6 338.0,445.6 339.2,481.6 339.6,490.2 340.0,487.0 340.4,494.8 341.0,484.0 341.3,489.9 341.7,494.9 342.0,502.0 342.5,496.1 342.9,492.1 343.4,485.2 343.8,488.3 344.2,492.0 344.6,496.0 345.0,494.2 345.4,490.4 345.8,487.6 346.2,494.5 346.6,490.2 347.0,496.0 347.4,491.8 347.8,488.0 348.2,482.8 349.6,477.4 350.8,505.6 351.2,503.1 351.6,506.2 352.0,504.4 352.6,492.4 353.3,490.2 353.7,494.8 354.4,493.6 355.6,469.0 356.8,498.4 357.2,497.6 357.6,494.1 358.0,492.4 358.7,495.6 359.1,499.2 359.8,503.2 360.3,500.9 360.7,497.0 361.1,493.6 362.0,449.0 362.9,501.4 364.2,475.6 365.5,499.0 365.9,495.5 366.3,498.8 366.7,496.0 367.2,491.8 367.6,488.0 368.2,482.8 368.8,490.9 369.2,494.8 369.8,503.8 370.2,491.8 370.6,495.2 371.0,484.0 372.2,476.8 373.4,499.6 374.2,495.0 375.2,462.4 376.6,502.3 377.0,503.9 377.4,499.5 377.8,500.0 378.2,490.7 378.6,494.7 379.0,486.4 379.6,490.0 380.0,486.7 380.6,489.4 381.0,494.5 381.4,497.9 381.8,503.8 383.0,462.2 384.2,486.4 384.8,490.3 385.2,495.1 385.9,500.2 386.3,500.6 386.7,497.0 387.1,496.5 388.4,476.8 389.8,491.2 390.2,487.3 390.6,491.7 391.0,488.8 391.9,478.6 393.1,494.8 393.6,491.3 394.0,495.1 394.6,492.4 395.5,481.6 395.7,484.5 396.1,480.9 396.4,482.8 397.4,472.3 398.6,501.1 399.4,505.6 399.8,504.3 400.2,507.9 400.6,507.4 401.5,480.7 401.9,492.0 402.3,488.1 402.7,498.4 403.2,499.1 403.6,495.2 404.2,494.8 405.4,478.6 406.6,494.8 407.0,490.6 407.4,494.0 407.8,490.6 408.7,499.6 409.2,504.0 409.6,499.0 410.2,502.0 410.6,496.2 411.0,501.2 411.4,496.6 411.8,498.0 412.2,493.0 412.6,493.0 413.8,464.6 415.0,493.6 415.4,495.9 415.8,499.5 416.2,502.6 417.4,478.0 418.6,503.8 420.2,467.2 421.2,503.2 421.9,475.0 422.6,508.6 424.0,479.8 425.5,484.0 425.8,488.5 426.2,493.3 426.4,499.0 426.8,495.3 427.2,499.4 427.6,496.7 429.4,478.0 430.6,494.3 431.2,497.8 431.6,494.1 432.2,496.6 432.8,491.1 433.2,487.9 433.9,481.6 434.5,488.0 434.9,491.7 435.4,499.0 435.8,494.8 436.2,498.0 436.6,494.5 437.5,475.6 438.7,502.5 439.2,501.5 439.6,506.0 440.0,506.2 440.4,493.3 440.8,498.2 441.2,486.4 441.6,492.5 442.0,496.7 442.4,503.8 442.8,507.6 443.2,503.0 443.6,505.6 445.2,469.0 447.0,466.3 448.4,499.5 449.0,504.6 449.4,500.9 450.0,505.0 450.6,474.4 452.0,497.8 452.3,496.1 452.7,500.3 453.0,499.6 454.6,473.0 456.0,493.2 456.4,497.7 456.8,492.7 457.2,496.0 457.6,493.1 458.0,496.9 458.4,494.8 459.1,503.0 459.5,498.1 460.2,505.0 461.7,468.2 463.2,486.4 463.6,491.8 464.0,487.1 464.4,491.2 465.0,490.1 465.4,486.6 466.0,484.6 466.8,498.4 467.4,496.7 467.8,501.4 468.4,500.8 469.0,494.8 469.4,490.1 470.1,482.8 470.3,482.9 470.7,487.6 471.0,488.8 471.4,482.7 471.8,485.8 472.2,480.4 474.0,479.2 474.6,503.2 475.0,495.4 475.4,500.3 475.8,493.6 476.4,503.7 476.8,500.1 477.4,509.2 477.8,502.8 478.2,498.7 478.7,491.2 479.4,444.2 480.3,493.6 480.5,496.8 480.9,492.7 481.2,494.8 483.0,476.8 484.2,503.6 484.6,503.3 485.0,506.4 485.4,506.8 485.8,505.5 486.2,502.2 486.6,500.0 487.6,469.6 488.8,491.2 489.6,482.8 490.0,496.2 490.4,493.0 490.8,505.6 491.2,493.9 491.6,498.7 492.0,488.2 492.6,502.8 493.0,498.7 493.6,512.2 494.1,510.3 494.5,506.6 495.0,503.8 496.5,468.2 497.7,497.4 498.2,502.4 498.6,498.1 499.2,502.0 499.6,493.7 500.0,497.5 500.4,490.0 500.8,501.7 501.2,497.9 501.6,508.6 502.0,505.0 502.4,500.8 502.8,496.0 503.2,488.8 503.6,492.7 504.0,486.4 504.7,495.8 505.1,492.4 505.8,500.9 506.2,493.5 506.6,489.2 507.0,480.7 507.4,487.1 507.8,491.0 508.2,498.4 508.7,498.7 509.1,503.1 509.7,504.4 510.3,506.3 510.7,502.5 511.2,503.4 511.9,504.4 512.3,499.9 513.0,499.8 513.7,495.0 514.1,490.5 514.8,484.6 515.2,495.6 515.6,492.0 516.0,502.0 516.9,484.0 517.6,512.2 519.0,479.5 520.5,502.0 520.9,490.2 521.3,494.7 521.7,484.0 522.9,478.0 524.1,502.6 524.7,495.8 525.1,491.9 525.6,484.0 526.0,494.9 526.4,490.0 526.8,499.6 527.7,495.0 528.6,468.4 529.6,484.0 530.4,474.4 531.3,500.8 531.9,491.2 532.3,495.1 532.8,486.4 533.2,493.1 533.6,497.8 534.0,505.6 534.7,501.0 535.1,496.9 535.8,491.2 536.2,499.0 536.6,494.3 537.0,500.8 537.4,494.9 537.8,499.8 538.2,495.1 539.6,466.3 541.0,503.2 541.4,496.3 541.8,500.7 542.2,494.8 542.6,497.0 543.0,501.2 543.4,504.4 544.6,472.0 545.8,461.0 547.0,484.0 548.0,479.8 548.6,496.0 549.0,499.9 549.4,495.6 549.8,498.4 550.4,503.5 550.8,500.2 551.4,504.4 552.2,476.8 553.8,477.4 554.6,497.1 555.0,495.9 555.4,499.0 555.8,498.6 556.2,501.1 556.6,497.9 557.0,499.6 557.4,489.1 557.8,492.5 558.2,482.8 558.8,496.0 559.2,491.2 559.8,503.2 560.2,496.6 560.6,491.8 561.0,484.0 561.8,475.4 563.6,475.0 564.8,497.2 565.5,487.6 565.9,492.4 566.6,484.0 567.4,490.4 567.8,494.6 568.7,502.0 569.2,497.7 569.6,500.9 570.2,497.4 571.4,475.9 572.3,493.6 573.5,469.6 574.7,496.0 575.1,498.1 575.5,502.3 576.0,505.4 576.4,500.1 576.8,503.4 577.2,499.0 578.3,473.5 579.8,493.6 581.0,478.0 582.2,501.5 582.6,500.6 583.0,505.5 583.4,505.8 583.8,509.8 584.2,506.0 584.6,509.0 585.0,503.4 585.4,508.1 585.8,503.7 586.3,496.0 586.7,492.6 587.3,484.0 588.2,453.1 589.2,491.2 589.6,499.0 590.0,494.7 590.4,501.4 590.7,490.3 591.1,494.2 591.5,484.0 591.9,496.7 592.3,492.8 592.7,504.4 593.9,476.8 594.7,500.8 595.4,454.3 596.4,493.6 596.9,500.0 597.3,496.1 597.8,501.4 598.2,501.6 598.6,497.5 599.0,496.6 600.6,465.4 601.8,492.4 603.2,478.0 604.7,473.0 605.6,498.4 606.3,497.5 606.7,501.4 607.4,501.4 607.8,493.9 608.2,497.3 608.6,490.6 609.2,491.6 609.6,496.3 610.2,498.4 612.2,479.2 613.8,500.8 614.3,496.8 614.7,500.9 615.2,498.0 615.7,493.1 616.1,488.8 616.6,482.8 617.4,460.0 618.6,491.2 619.4,475.6 620.3,498.4 621.8,476.8 623.0,488.8 623.7,484.6 624.1,488.0 624.8,484.6 625.2,494.7 625.6,490.1 626.0,499.0 626.6,494.9 627.0,499.1 627.5,496.0 628.1,484.0 629.0,463.4 630.0,494.8 630.6,498.3 631.0,493.7 631.6,496.0 632.0,495.9 632.4,492.3 632.8,491.2 633.6,507.4 634.0,506.6 634.4,502.3 634.8,500.4 635.8,466.6 636.6,496.0 637.6,474.4 638.8,475.6 639.4,491.2 639.8,491.1 640.2,487.5 640.6,486.4 641.0,490.6 641.4,495.6 641.8,501.1 642.3,505.0 642.7,500.5 643.2,503.2 643.5,502.5 643.9,497.7 644.2,495.7 645.6,458.2 646.4,484.0 647.2,473.5 648.4,503.2 648.8,497.4 649.2,501.0 649.6,496.0 650.0,501.0 650.4,497.9 650.8,502.0 651.2,503.2 651.6,499.3 652.0,499.5 653.8,476.8 655.6,475.0 656.8,494.8 657.5,501.7 657.9,497.9 658.6,503.8 659.0,504.9 659.4,500.2 659.8,500.1 660.1,501.3 660.5,496.2 660.8,496.1 662.0,468.2 662.8,491.2 663.7,485.8 664.2,494.8 664.6,490.5 665.2,498.4 666.1,494.1 667.0,473.5 668.2,496.0 668.6,496.3 669.0,491.5 669.4,490.6 669.7,487.6 670.1,491.9 670.4,489.9 671.2,457.4 672.4,486.4 673.1,496.7 673.5,492.1 674.2,501.3 674.9,501.6 675.3,505.5 676.0,506.8 676.4,500.3 676.8,505.3 677.2,500.0 677.7,501.1 678.1,497.6 678.7,497.8 679.6,457.0 680.8,491.2 681.2,500.7 681.6,496.1 682.0,504.4 682.4,501.9 682.8,506.9 683.2,505.6 683.6,501.3 684.0,504.8 684.4,501.3 685.1,501.8 685.5,498.2 686.2,497.7 687.4,474.4 688.6,493.6 689.3,499.8 689.7,495.2 690.4,500.2 691.3,492.4 691.8,493.6 692.2,498.5 692.8,500.8 693.2,502.2 693.6,497.4 694.0,497.6 695.8,476.8 696.8,502.0 697.2,496.7 697.6,492.8 698.0,486.4 698.4,493.0 698.8,496.2 699.2,503.6 699.6,508.2 700.0,503.4 700.4,506.8 700.8,497.8 701.2,494.0 701.6,484.0 702.4,474.2 704.5,473.5 705.7,498.4 706.3,489.7 706.7,494.1 707.2,486.4 707.6,497.4 708.0,493.6 708.4,503.6 708.8,507.8 709.2,503.7 709.6,506.8 710.5,482.8 712.0,472.0 713.6,499.5 714.1,503.4 714.5,499.2 715.0,502.0 715.7,494.2 716.1,498.1 716.8,491.2 717.7,502.0 718.3,498.3 718.7,501.7 719.2,498.8 720.1,494.8 721.0,466.3 722.2,484.0 723.4,474.4 724.6,503.8 725.1,496.1 725.5,491.7 726.0,482.8 726.3,486.5 726.7,481.6 727.0,484.0 728.2,462.7 729.2,463.0 730.0,499.6 730.4,497.0 730.8,500.3 731.2,498.4 731.5,488.8 731.9,492.7 732.2,484.0 733.0,501.5 733.4,500.8 733.8,505.4 734.2,505.9 734.7,505.4 735.1,500.9 735.6,499.3 736.8,465.4 738.0,496.0 738.3,491.3 738.7,496.0 739.0,492.4 739.5,500.1 739.9,495.5 740.5,502.0 740.7,495.1 741.1,499.5 741.4,493.6 741.7,500.7 742.1,504.0 742.4,511.9 742.9,511.2 743.3,507.4 743.8,505.7 744.2,501.6 744.6,506.1 745.0,503.2 746.5,471.1 747.4,496.5 747.8,496.5 748.2,500.0 748.6,500.8 749.0,489.7 749.4,494.1 749.8,484.0 750.2,493.1 750.6,488.2 751.0,496.0 751.4,491.1 751.8,494.4 752.2,490.3 753.4,461.5 754.6,469.6 755.8,496.0 756.1,489.1 756.5,492.5 756.8,486.4 757.3,499.5 757.7,494.9 758.2,506.8 758.6,500.8 759.0,505.0 759.4,500.0 759.7,495.8 760.1,499.8 760.4,496.6 761.6,458.2 762.8,493.6 763.6,484.0 764.0,496.0 764.4,492.5 764.8,503.6 765.7,504.4 766.1,508.5 766.5,503.9 766.9,506.8 767.4,494.9 767.8,499.1 768.4,488.2 768.8,493.4 769.2,497.2 769.6,503.2 770.0,498.7 770.4,494.9 770.8,489.4 771.5,490.8 771.9,493.9 772.6,496.0 773.1,488.3 773.5,491.9 774.1,485.0 774.5,490.9 774.9,494.7 775.3,501.6 775.5,505.4 775.9,501.5 776.2,504.4 776.8,466.3 778.0,486.4 778.9,471.4 779.8,491.2 780.2,486.4 780.6,491.1 781.0,487.4 781.4,500.0 781.8,495.2 782.2,506.5 782.7,511.1 783.1,507.4 783.7,511.0 784.1,503.2 784.5,499.9 784.9,491.2 785.1,484.2 785.5,488.7 785.8,482.8 787.0,478.6 788.0,502.0 788.8,477.4 790.0,502.3 790.4,505.9 790.8,502.4 791.2,505.0 792.1,479.8 793.6,501.4 794.0,503.1 794.4,498.5 794.8,499.1 795.7,485.8 796.1,490.8 796.5,495.4 796.9,501.5 797.3,500.6 797.7,503.9 798.1,503.8 798.7,499.7 799.1,496.2 799.6,491.2 800.0,492.8 800.4,497.0 800.8,499.6 801.2,500.3 801.6,496.7 802.0,496.4 802.4,487.7 802.8,490.8 803.2,482.8 804.1,496.0 804.4,488.2 804.8,493.1 805.0,486.4 805.6,481.3 806.0,485.2 806.5,481.0 806.9,488.8 807.3,493.1 807.7,501.9 808.1,500.0 808.5,505.1 808.9,504.4 809.2,494.3 809.6,498.0 810.0,488.8 810.8,451.0 811.8,491.2 812.6,463.9 813.8,484.0 814.6,482.8 815.4,502.0 815.9,501.9 816.3,506.0 816.8,506.8 817.2,501.3 817.6,505.9 818.0,501.4 818.3,502.5 818.7,497.9 819.0,497.8 819.8,469.4 820.6,484.0 820.9,483.3 821.3,487.4 821.6,487.6 822.0,483.3 822.4,487.3 822.8,484.0 823.2,496.5 823.6,492.4 824.0,503.8 824.4,503.4 824.8,499.3 825.2,497.9 826.2,476.8 826.7,496.0 827.9,472.0 829.4,465.4 830.6,497.8 831.2,502.6 832.2,475.0 833.6,506.2 834.8,474.4 835.7,406.6 836.5,484.0 836.8,489.0 837.2,493.0 837.5,499.0 838.4,464.2 839.4,496.0 839.8,499.5 840.2,504.5 840.6,509.2 841.8,475.6 843.0,498.4 843.4,497.8 843.8,501.2 844.2,501.4 844.6,496.1 845.0,500.5 845.4,496.2 846.2,476.8 847.1,497.1 847.3,502.2 847.7,498.4 848.0,502.6 849.2,475.6 850.2,475.0 851.0,496.0 851.7,488.8 852.5,450.4 853.4,484.0 854.0,471.4 855.0,496.0 855.5,501.1 855.9,497.8 856.4,502.0 856.8,492.6 857.2,497.6 857.6,489.4 858.0,495.8 858.4,490.9 858.8,496.0 859.2,492.8 859.6,496.1 860.0,493.7 860.3,488.9 860.7,493.2 861.0,489.6 861.8,467.2 863.0,494.8 863.3,490.5 863.7,495.0 864.0,491.8 864.3,492.8 864.7,496.6 864.9,498.4" fill="none" stroke="#1f77b4" stroke-width="2.08" stroke-linejoin="round" stroke-linecap="square"/>
<path d="M125.5,400.95V520.05M900.5,400.95V520.05M124.95,401.5H901.05M124.95,519.5H901.05" fill="none" stroke="#000" stroke-width="1.11"/>
<line x1="202.5" y1="519.5" x2="202.5" y2="524.36" stroke="#000" stroke-width="1.11"/>
<text transform="translate(200.18,538.22) rotate(-30)" font-size="13.89" text-anchor="end" textLength="35.35" lengthAdjust="spacingAndGlyphs">2020</text>
<line x1="285.5" y1="519.5" x2="285.5" y2="524.36" stroke="#000" stroke-width="1.11"/>
<text transform="translate(283.22,538.22) rotate(-30)" font-size="13.89" text-anchor="end" textLength="35.35" lengthAdjust="spacingAndGlyphs">2030</text>
<line x1="368.5" y1="519.5" x2="368.5" y2="524.36" stroke="#000" stroke-width="1.11"/>
<text transform="translate(366.24,538.22) rotate(-30)" font-size="13.89" text-anchor="end" textLength="35.35" lengthAdjust="spacingAndGlyphs">2040</text>
<line x1="451.5" y1="519.5" x2="451.5" y2="524.36" stroke="#000" stroke-width="1.11"/>
<text transform="translate(449.27,538.22) rotate(-30)" font-size="13.89" text-anchor="end" textLength="35.35" lengthAdjust="spacingAndGlyphs">2050</text>
<line x1="534.5" y1="519.5" x2="534.5" y2="524.36" stroke="#000" stroke-width="1.11"/>
<text transform="translate(532.29,538.22) rotate(-30)" font-size="13.89" text-anchor="end" textLength="35.35" lengthAdjust="spacingAndGlyphs">2060</text>
<line x1="617.5" y1="519.5" x2="617.5" y2="524.36" stroke="#000" stroke-width="1.11"/>
<text transform="translate(615.33,538.22) rotate(-30)" font-size="13.89" text-anchor="end" textLength="35.35" lengthAdjust="spacingAndGlyphs">2070</text>
<line x1="700.5" y1="519.5" x2="700.5" y2="524.36" stroke="#000" stroke-width="1.11"/>
<text transform="translate(698.35,538.22) rotate(-30)" font-size="13.89" text-anchor="end" textLength="35.35" lengthAdjust="spacingAndGlyphs">2080</text>
<line x1="783.5" y1="519.5" x2="783.5" y2="524.36" stroke="#000" stroke-width="1.11"/>
<text transform="translate(781.38,538.22) rotate(-30)" font-size="13.89" text-anchor="end" textLength="35.35" lengthAdjust="spacingAndGlyphs">2090</text>
<line x1="866.5" y1="519.5" x2="866.5" y2="524.36" stroke="#000" stroke-width="1.11"/>
<text transform="translate(864.40,538.22) rotate(-30)" font-size="13.89" text-anchor="end" textLength="35.35" lengthAdjust="spacingAndGlyphs">2100</text>
<line x1="120.64" y1="424.5" x2="125.5" y2="424.5" stroke="#000" stroke-width="1.11"/>
<text x="113.9" y="429.20" font-size="13.89" text-anchor="end" textLength="15.47" lengthAdjust="spacingAndGlyphs">20</text>
<line x1="120.64" y1="475.5" x2="125.5" y2="475.5" stroke="#000" stroke-width="1.11"/>
<text x="113.9" y="480.20" font-size="13.89" text-anchor="end" textLength="15.47" lengthAdjust="spacingAndGlyphs">10</text>
<text transform="translate(87.70,461.50) rotate(-90)" font-size="13.89" text-anchor="middle" textLength="59.33" lengthAdjust="spacingAndGlyphs">fieldmax</text>
</g>
<g>
<rect x="125.0" y="542.07" width="775.0" height="117.24" fill="#fff"/>
<line x1="160" y1="601" x2="865" y2="601" stroke="#1f77b4" stroke-width="2.08" stroke-linecap="square"/>
<path d="M125.5,541.95V660.05M900.5,541.95V660.05M124.95,542.5H901.05M124.95,659.5H901.05" fill="none" stroke="#000" stroke-width="1.11"/>
<line x1="202.5" y1="659.5" x2="202.5" y2="664.36" stroke="#000" stroke-width="1.11"/>
<text transform="translate(200.18,678.91) rotate(-30)" font-size="13.89" text-anchor="end" textLength="35.35" lengthAdjust="spacingAndGlyphs">2020</text>
<line x1="285.5" y1="659.5" x2="285.5" y2="664.36" stroke="#000" stroke-width="1.11"/>
<text transform="translate(283.22,678.91) rotate(-30)" font-size="13.89" text-anchor="end" textLength="35.35" lengthAdjust="spacingAndGlyphs">2030</text>
<line x1="368.5" y1="659.5" x2="368.5" y2="664.36" stroke="#000" stroke-width="1.11"/>
<text transform="translate(366.24,678.91) rotate(-30)" font-size="13.89" text-anchor="end" textLength="35.35" lengthAdjust="spacingAndGlyphs">2040</text>
<line x1="451.5" y1="659.5" x2="451.5" y2="664.36" stroke="#000" stroke-width="1.11"/>
<text transform="translate(449.27,678.91) rotate(-30)" font-size="13.89" text-anchor="end" textLength="35.35" lengthAdjust="spacingAndGlyphs">2050</text>
<line x1="534.5" y1="659.5" x2="534.5" y2="664.36" stroke="#000" stroke-width="1.11"/>
<text transform="translate(532.29,678.91) rotate(-30)" font-size="13.89" text-anchor="end" textLength="35.35" lengthAdjust="spacingAndGlyphs">2060</text>
<line x1="617.5" y1="659.5" x2="617.5" y2="664.36" stroke="#000" stroke-width="1.11"/>
<text transform="translate(615.33,678.91) rotate(-30)" font-size="13.89" text-anchor="end" textLength="35.35" lengthAdjust="spacingAndGlyphs">2070</text>
<line x1="700.5" y1="659.5" x2="700.5" y2="664.36" stroke="#000" stroke-width="1.11"/>
<text transform="translate(698.35,678.91) rotate(-30)" font-size="13.89" text-anchor="end" textLength="35.35" lengthAdjust="spacingAndGlyphs">2080</text>
<line x1="783.5" y1="659.5" x2="783.5" y2="664.36" stroke="#000" stroke-width="1.11"/>
<text transform="translate(781.38,678.91) rotate(-30)" font-size="13.89" text-anchor="end" textLength="35.35" lengthAdjust="spacingAndGlyphs">2090</text>
<line x1="866.5" y1="659.5" x2="866.5" y2="664.36" stroke="#000" stroke-width="1.11"/>
<text transform="translate(864.40,678.91) rotate(-30)" font-size="13.89" text-anchor="end" textLength="35.35" lengthAdjust="spacingAndGlyphs">2100</text>
<line x1="120.64" y1="547.5" x2="125.5" y2="547.5" stroke="#000" stroke-width="1.11"/>
<text x="113.9" y="552.50" font-size="13.89" text-anchor="end" textLength="28.72" lengthAdjust="spacingAndGlyphs">0.05</text>
<line x1="120.64" y1="601.5" x2="125.5" y2="601.5" stroke="#000" stroke-width="1.11"/>
<text x="113.9" y="605.80" font-size="13.89" text-anchor="end" textLength="28.72" lengthAdjust="spacingAndGlyphs">0.00</text>
<line x1="120.64" y1="654.5" x2="125.5" y2="654.5" stroke="#000" stroke-width="1.11"/>
<text x="113.9" y="659.10" font-size="13.89" text-anchor="end" textLength="40.36" lengthAdjust="spacingAndGlyphs">−0.05</text>
<text transform="translate(63.70,602.19) rotate(-90)" font-size="13.89" text-anchor="middle" textLength="84.04" lengthAdjust="spacingAndGlyphs">nummasked</text>
</g>
<g>
<rect x="125.0" y="682.76" width="775.0" height="117.24" fill="#fff"/>
<line x1="160" y1="741" x2="865" y2="741" stroke="#1f77b4" stroke-width="2.08" stroke-linecap="square"/>
<path d="M125.5,682.95V801.05M900.5,682.95V801.05M124.95,683.5H901.05M124.95,800.5H901.05" fill="none" stroke="#000" stroke-width="1.11"/>
<line x1="202.5" y1="800.5" x2="202.5" y2="805.36" stroke="#000" stroke-width="1.11"/>
<text transform="translate(200.18,819.60) rotate(-30)" font-size="13.89" text-anchor="end" textLength="35.35" lengthAdjust="spacingAndGlyphs">2020</text>
<line x1="285.5" y1="800.5" x2="285.5" y2="805.36" stroke="#000" stroke-width="1.11"/>
<text transform="translate(283.22,819.60) rotate(-30)" font-size="13.89" text-anchor="end" textLength="35.35" lengthAdjust="spacingAndGlyphs">2030</text>
<line x1="368.5" y1="800.5" x2="368.5" y2="805.36" stroke="#000" stroke-width="1.11"/>
<text transform="translate(366.24,819.60) rotate(-30)" font-size="13.89" text-anchor="end" textLength="35.35" lengthAdjust="spacingAndGlyphs">2040</text>
<line x1="451.5" y1="800.5" x2="451.5" y2="805.36" stroke="#000" stroke-width="1.11"/>
<text transform="translate(449.27,819.60) rotate(-30)" font-size="13.89" text-anchor="end" textLength="35.35" lengthAdjust="spacingAndGlyphs">2050</text>
<line x1="534.5" y1="800.5" x2="534.5" y2="805.36" stroke="#000" stroke-width="1.11"/>
<text transform="translate(532.29,819.60) rotate(-30)" font-size="13.89" text-anchor="end" textLength="35.35" lengthAdjust="spacingAndGlyphs">2060</text>
<line x1="617.5" y1="800.5" x2="617.5" y2="805.36" stroke="#000" stroke-width="1.11"/>
<text transform="translate(615.33,819.60) rotate(-30)" font-size="13.89" text-anchor="end" textLength="35.35" lengthAdjust="spacingAndGlyphs">2070</text>
<line x1="700.5" y1="800.5" x2="700.5" y2="805.36" stroke="#000" stroke-width="1.11"/>
<text transform="translate(698.35,819.60) rotate(-30)" font-size="13.89" text-anchor="end" textLength="35.35" lengthAdjust="spacingAndGlyphs">2080</text>
<line x1="783.5" y1="800.5" x2="783.5" y2="805.36" stroke="#000" stroke-width="1.11"/>
<text transform="translate(781.38,819.60) rotate(-30)" font-size="13.89" text-anchor="end" textLength="35.35" lengthAdjust="spacingAndGlyphs">2090</text>
<line x1="866.5" y1="800.5" x2="866.5" y2="805.36" stroke="#000" stroke-width="1.11"/>
<text transform="translate(864.40,819.60) rotate(-30)" font-size="13.89" text-anchor="end" textLength="35.35" lengthAdjust="spacingAndGlyphs">2100</text>
<line x1="120.64" y1="688.5" x2="125.5" y2="688.5" stroke="#000" stroke-width="1.11"/>
<text x="113.9" y="693.20" font-size="13.89" text-anchor="end" textLength="28.72" lengthAdjust="spacingAndGlyphs">0.05</text>
<line x1="120.64" y1="741.5" x2="125.5" y2="741.5" stroke="#000" stroke-width="1.11"/>
<text x="113.9" y="746.50" font-size="13.89" text-anchor="end" textLength="28.72" lengthAdjust="spacingAndGlyphs">0.00</text>
<line x1="120.64" y1="795.5" x2="125.5" y2="795.5" stroke="#000" stroke-width="1.11"/>
<text x="113.9" y="799.80" font-size="13.89" text-anchor="end" textLength="40.36" lengthAdjust="spacingAndGlyphs">−0.05</text>
<text transform="translate(63.70,742.88) rotate(-90)" font-size="13.89" text-anchor="middle" textLength="56.39" lengthAdjust="spacingAndGlyphs">numnan</text>
</g>
<text x="512.5" y="855.7" font-size="13.89" text-anchor="middle" textLength="64.64" lengthAdjust="spacingAndGlyphs">validtime</text>
</svg></body></html>
